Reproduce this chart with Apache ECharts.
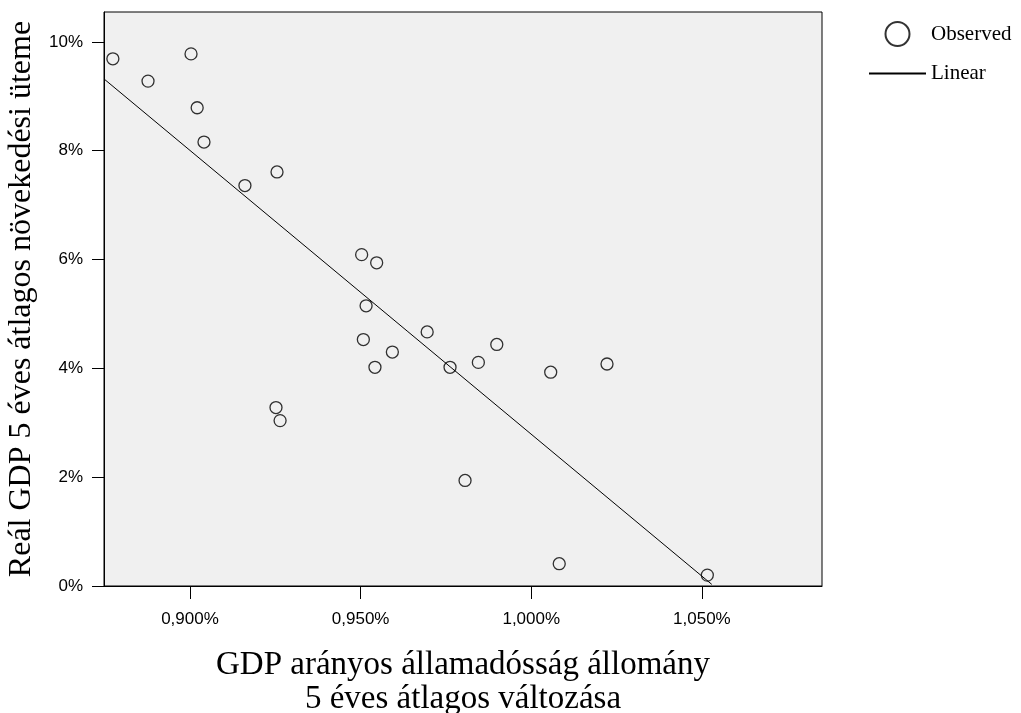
<!DOCTYPE html>
<html>
<head>
<meta charset="utf-8">
<script src="https://cdn.jsdelivr.net/npm/echarts@6/dist/echarts.min.js"></script>
<style>
  html, body { margin: 0; padding: 0; background: #fff; }
  #chart { width: 1021px; height: 713px; }
</style>
</head>
<body>
<div id="chart"></div>
<script>
// Observed countries: 5-year average change of debt-to-GDP (x, %) vs real GDP growth (y, %)
const obsX = [0.8774, 0.8877, 0.9003, 0.9021, 0.9041, 0.9161, 0.9255, 0.9503, 0.9547, 0.9516,
              0.9508, 0.9593, 0.9542, 0.9695, 0.9762, 0.9845, 0.9899, 1.0057, 1.0222, 0.9252,
              0.9264, 0.9806, 1.0082, 1.0516];
const obsY = [9.69, 9.28, 9.78, 8.79, 8.16, 7.36, 7.61, 6.09, 5.94, 5.15,
              4.53, 4.30, 4.02, 4.67, 4.02, 4.11, 4.44, 3.93, 4.08, 3.28,
              3.04, 1.94, 0.41, 0.20];

// Linear fit line end points
const linearX = [0.8748, 1.0529];
const linearY = [9.32, 0.03];

// Axis ticks
const xTicks = [0.900, 0.950, 1.000, 1.050];
const yTicks = [0, 2, 4, 6, 8, 10];

const xTitle = 'GDP arányos államadósság állomány\n5 éves átlagos változása';
const yTitle = 'Reál GDP 5 éves átlagos növekedési üteme';

const serif = '"Liberation Serif", "DejaVu Serif", serif';
const sans = '"Liberation Sans", "DejaVu Sans", sans-serif';

const chart = echarts.init(document.getElementById('chart'));

const observed = obsX.map((x, i) => [x, obsY[i]]);
const linear = linearX.map((x, i) => [x, linearY[i]]);

chart.setOption({
  animation: false,
  backgroundColor: '#ffffff',
  grid: {
    left: 104, top: 12, width: 718, height: 574,
    containLabel: false, outerBoundsMode: 'none',
    show: true, backgroundColor: '#f0f0f0', borderColor: '#000', borderWidth: 1
  },
  legend: {
    orient: 'vertical',
    left: 868, top: 21, padding: 0,
    itemWidth: 57, itemHeight: 24, itemGap: 16,
    textStyle: { fontFamily: serif, fontSize: 21, color: '#000' },
    data: [
      { name: 'Observed', icon: 'circle' },
      { name: 'Linear', itemStyle: { opacity: 0 } }
    ]
  },
  xAxis: {
    type: 'value',
    min: 0.8748, max: 1.0852,
    splitLine: { show: false },
    axisLine: { show: true, lineStyle: { color: '#000', width: 1 } },
    axisTick: { show: true, length: 13, lineStyle: { color: '#000' }, customValues: xTicks },
    axisLabel: {
      customValues: xTicks,
      margin: 25,
      fontFamily: sans, fontSize: 17, color: '#000',
      formatter: v => v.toFixed(3).replace('.', ',') + '%'
    },
    name: xTitle,
    nameLocation: 'middle',
    nameGap: 62,
    nameTextStyle: { fontFamily: serif, fontSize: 33, color: '#000', lineHeight: 34 }
  },
  yAxis: {
    type: 'value',
    min: 0, max: 10.55,
    splitLine: { show: false },
    axisLine: { show: true, lineStyle: { color: '#000', width: 1 } },
    axisTick: { show: true, length: 12, lineStyle: { color: '#000' }, customValues: yTicks },
    axisLabel: {
      customValues: yTicks,
      margin: 21,
      fontFamily: sans, fontSize: 17, color: '#000',
      formatter: v => v + '%'
    },
    name: yTitle,
    nameLocation: 'middle',
    nameGap: 66,
    nameTextStyle: { fontFamily: serif, fontSize: 32, color: '#000' }
  },
  series: [
    {
      name: 'Observed',
      type: 'scatter',
      data: observed,
      symbol: 'circle',
      symbolSize: 12,
      itemStyle: { color: 'rgba(0,0,0,0)', borderColor: '#000', borderWidth: 1.3 },
      z: 3
    },
    {
      name: 'Linear',
      type: 'line',
      data: linear,
      symbol: 'none',
      lineStyle: { color: '#000', width: 1 },
      itemStyle: { color: '#000' },
      z: 2
    }
  ]
});
</script>
</body>
</html>
